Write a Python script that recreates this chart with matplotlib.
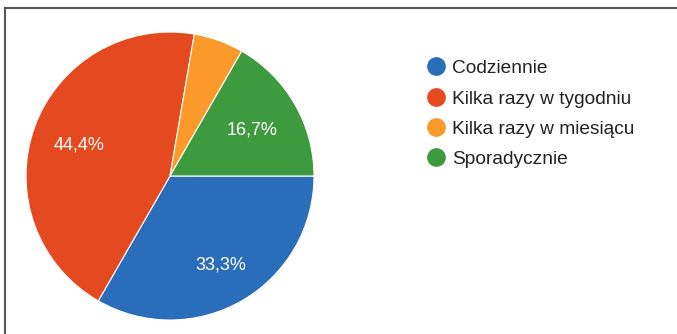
import matplotlib
matplotlib.use("Agg")
import matplotlib.pyplot as plt
import numpy as np
from matplotlib.lines import Line2D

categories = ["Codziennie", "Kilka razy w tygodniu", "Kilka razy w miesiącu", "Sporadycznie"]
values = [33.3, 44.4, 5.6, 16.7]
colors = ["#2a6ebb", "#e4491f", "#fb9a2a", "#3e9a3f"]
label_radius = [0.70, 0.67, 0.7, 0.66]

plt.rcParams['font.family'] = ['Liberation Sans', 'DejaVu Sans']

W, H = 677, 334
fig = plt.figure(figsize=(W/100, H/100), dpi=100)
fig.patch.set_facecolor("white")

# pie axes: center (170,176), radius 144 px
cx, cy, r = 170, 176, 144
ax = fig.add_axes([(cx - r)/W, (H - cy - r)/H, 2*r/W, 2*r/H])
wedges, _ = ax.pie(values, colors=colors, startangle=0, counterclock=False,
                   radius=1, wedgeprops=dict(edgecolor="white", linewidth=0.8))
ax.set_xlim(-1, 1); ax.set_ylim(-1, 1)
ax.set_aspect("equal")
ax.axis("off")

total = sum(values)
for w, v, rr in zip(wedges, values, label_radius):
    if v / total < 0.1:
        continue
    ang = np.deg2rad((w.theta1 + w.theta2) / 2)
    ax.text(rr*np.cos(ang), rr*np.sin(ang), f"{v:.1f}%".replace(".", ","),
            color="white", fontsize=13, ha="center", va="center_baseline")

# legend
lax = fig.add_axes([0, 0, 1, 1])
lax.set_xlim(0, W); lax.set_ylim(H, 0)
lax.axis("off")
rows_y = [66, 97, 127, 157]
for c, lab, y in zip(colors, categories, rows_y):
    lax.plot([436], [y], marker="o", markersize=13.5, color=c, markeredgewidth=0)
    lax.text(452, y + 7, lab, fontsize=13.8, color="#222222", va="baseline", ha="left")

# frame lines (top and left)
lax.add_line(Line2D([5, W], [8, 8], color="#555555", linewidth=1.5))
lax.add_line(Line2D([5, 5], [8, H], color="#555555", linewidth=1.5))

fig.savefig("out.png", dpi=100, facecolor="white")
